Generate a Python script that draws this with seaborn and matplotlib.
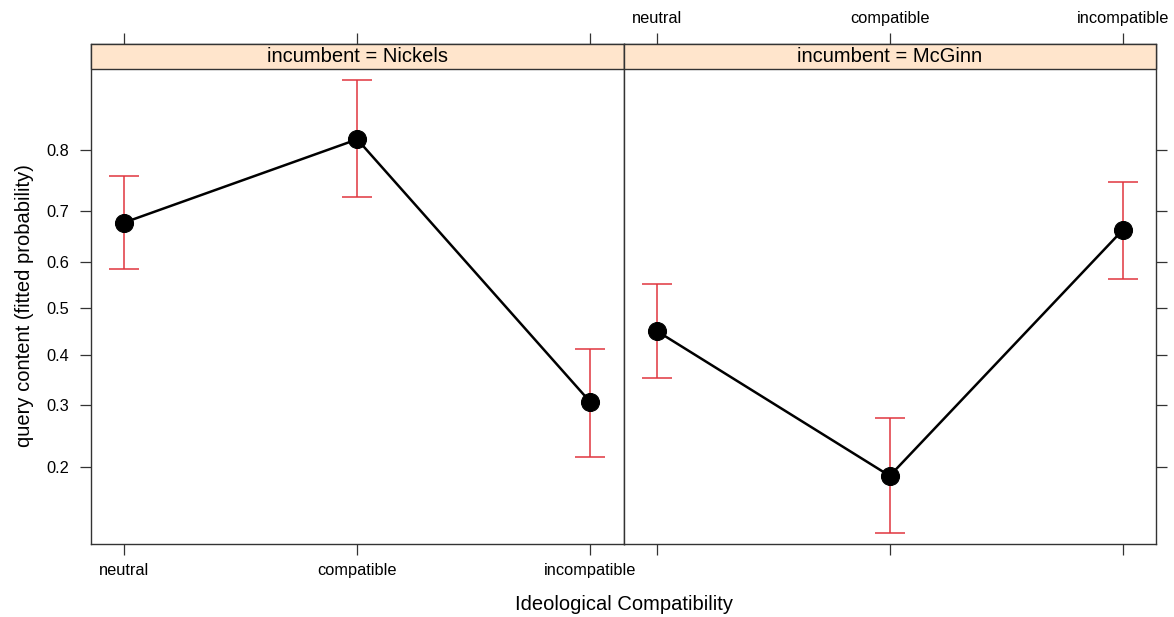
import pandas as pd
import seaborn as sns
import matplotlib.pyplot as plt
from matplotlib.patches import Rectangle
from matplotlib.ticker import FixedLocator, NullLocator, NullFormatter

# values (fitted probability, 95% band)
incumbents = ["Nickels", "McGinn"]
levels = ["neutral", "compatible", "incompatible"]
fit_nickels = [0.679, 0.814, 0.306]
lower_nickels = [0.586, 0.725, 0.214]
upper_nickels = [0.760, 0.880, 0.412]
fit_mcginn = [0.451, 0.188, 0.665]
lower_mcginn = [0.352, 0.123, 0.564]
upper_mcginn = [0.553, 0.277, 0.751]
y_ticks = [0.2, 0.3, 0.4, 0.5, 0.6, 0.7, 0.8]

RED = "#E0353F"
AXCOL = "#333333"
STRIP = "#FFE5CC"

rows = []
for inc, fits, lows, ups in [
    ("Nickels", fit_nickels, lower_nickels, upper_nickels),
    ("McGinn", fit_mcginn, lower_mcginn, upper_mcginn),
]:
    for i, lev in enumerate(levels):
        rows.append(
            {"incumbent": inc, "compat": lev, "x": i + 1,
             "fit": fits[i], "lower": lows[i], "upper": ups[i]}
        )
df = pd.DataFrame(rows)

sns.set_theme(style="white")
plt.rcParams["font.family"] = ["Liberation Sans", "DejaVu Sans"]
plt.rcParams["text.color"] = "black"


def draw_effect(data, **kws):
    ax = plt.gca()
    ax.errorbar(
        data["x"], data["fit"],
        yerr=[data["fit"] - data["lower"], data["upper"] - data["fit"]],
        fmt="none", ecolor=RED, elinewidth=1.1, capsize=11, capthick=1.1,
        zorder=2,
    )
    sns.lineplot(
        data=data, x="x", y="fit", color="black", linewidth=1.8,
        marker="o", markersize=13, markeredgecolor="black",
        estimator=None, sort=False, ax=ax, zorder=3,
    )


g = sns.FacetGrid(df, col="incumbent", col_order=incumbents,
                  sharex=True, sharey=True, despine=False)
g.map_dataframe(draw_effect)
g.set_titles("")
g.set_axis_labels("", "")

fig = g.figure
fig.set_size_inches(11.74, 6.17)
fig.subplots_adjust(left=91 / 1174, right=1156 / 1174,
                    bottom=1 - 543.5 / 617, top=1 - 44 / 617, wspace=0)

strip_h = 25.3 / 499.5
for k, ax in enumerate(g.axes.flat):
    ax.set_yscale("logit")
    ax.set_ylim(0.1137, 0.9096)
    ax.set_xlim(0.858, 3.142)
    ax.yaxis.set_major_locator(FixedLocator(y_ticks))
    ax.set_yticklabels([f"{v:.1f}" for v in y_ticks])
    ax.yaxis.set_minor_locator(NullLocator())
    ax.yaxis.set_minor_formatter(NullFormatter())
    ax.set_xticks([1, 2, 3])
    ax.set_xticklabels(levels)
    for sp in ax.spines.values():
        sp.set_color(AXCOL)
        sp.set_linewidth(1.0)
    ax.tick_params(axis="both", direction="out", length=8, width=0.9,
                   color=AXCOL, labelsize=11.8, labelcolor="black")
    if k == 0:
        ax.tick_params(axis="x", bottom=True, top=True,
                       labelbottom=True, labeltop=False, pad=6)
        ax.tick_params(axis="y", left=True, right=False,
                       labelleft=True, labelright=False, pad=8)
    else:
        ax.tick_params(axis="x", bottom=True, top=True,
                       labelbottom=False, labeltop=True, pad=5)
        ax.tick_params(axis="y", left=False, right=True,
                       labelleft=False, labelright=False)
    ax.add_patch(Rectangle((0, 1 - strip_h), 1, strip_h,
                           transform=ax.transAxes, facecolor=STRIP,
                           edgecolor=AXCOL, linewidth=1.0, zorder=5,
                           clip_on=False))
    ax.text(0.5, 1 - strip_h / 2, f"incumbent = {incumbents[k]}",
            transform=ax.transAxes, ha="center", va="center",
            fontsize=14.5, color="black", zorder=6)

fig.text(624 / 1174, 1 - 605 / 617, "Ideological Compatibility",
         ha="center", va="center", fontsize=14.5, color="black")
fig.text(25 / 1174, 1 - 306 / 617, "query content (fitted probability)",
         ha="center", va="center", rotation=90, fontsize=14.5,
         color="black")

fig.savefig("out.png", dpi=100)
plt.close(fig)
